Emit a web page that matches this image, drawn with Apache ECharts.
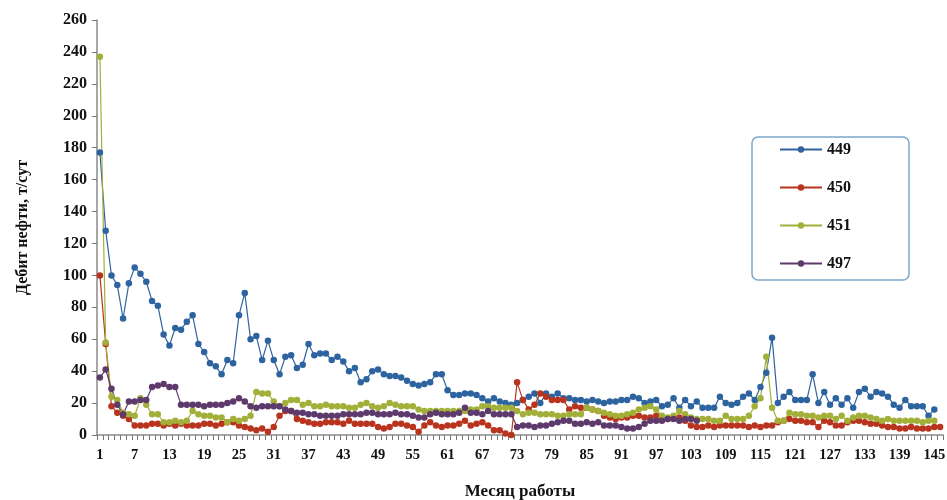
<!DOCTYPE html>
<html>
<head>
<meta charset="utf-8">
<script src="https://cdn.jsdelivr.net/npm/echarts@6/dist/echarts.min.js"></script>
<style>
  html, body { margin: 0; padding: 0; background: #fff; }
  #chart { width: 947px; height: 500px; }
</style>
</head>
<body>
<div id="chart"></div>
<script>
// Месяцы работы скважин
const months = Array.from({ length: 146 }, (_, i) => String(i + 1));

// Дебит нефти по скважинам, т/сут
const well449 = [
  177,128,100,94,73,95,105,101,96,84,
  81,63,56,67,66,71,75,57,52,45,
  43,38,47,45,75,89,60,62,47,59,
  47,38,49,50,42,44,57,50,51,51,
  47,49,46,40,42,33,35,40,41,38,
  37,37,36,34,32,31,32,33,38,38,
  28,25,25,26,26,25,23,21,23,21,
  20,19,20,22,24,26,20,26,24,26,
  23,23,22,22,21,22,21,20,21,21,
  22,22,24,23,20,21,22,18,19,23,
  17,22,18,21,17,17,17,24,20,19,
  20,24,26,22,30,39,61,20,24,27,
  22,22,22,38,20,27,19,23,19,23,
  17,27,29,24,27,26,24,19,17,22,
  18,18,18,12,16,null
];
const well450 = [
  100,57,18,14,12,10,6,6,6,7,
  7,6,7,6,7,6,6,6,7,7,
  6,7,8,8,6,5,4,3,4,2,
  5,12,15,15,10,9,8,7,7,8,
  8,8,7,9,7,7,7,7,5,4,
  5,7,7,6,5,2,6,8,6,5,
  6,6,7,9,6,7,8,6,3,3,
  1,0,33,22,16,19,26,24,22,22,
  22,16,18,17,17,16,15,12,11,10,
  11,11,12,12,11,11,12,11,10,11,
  11,9,6,5,5,6,5,6,6,6,
  6,6,5,6,5,6,6,8,9,10,
  9,9,8,8,5,9,8,6,6,8,
  9,9,8,7,7,6,5,5,4,4,
  5,4,4,4,5,5
];
const well451 = [
  237,58,24,22,14,13,12,23,19,13,
  13,8,8,9,8,9,15,13,12,12,
  11,11,8,10,9,10,12,27,26,26,
  21,18,20,22,22,19,20,18,18,19,
  18,18,18,17,17,19,20,18,17,18,
  20,19,18,18,18,16,15,15,15,15,
  15,15,15,15,16,16,18,18,17,17,
  17,17,15,13,14,14,13,13,13,12,
  12,13,13,13,17,16,15,14,13,12,
  12,13,14,16,17,18,16,12,11,12,
  15,13,11,10,10,10,9,9,12,10,
  10,10,12,18,23,49,17,9,9,14,
  13,13,12,12,11,12,12,10,12,9,
  11,12,12,11,10,9,10,9,9,9,
  9,9,8,9,9,null
];
const well497 = [
  36,41,29,19,13,21,21,22,22,30,
  31,32,30,30,19,19,19,19,18,19,
  19,19,20,21,23,21,18,17,18,18,
  18,18,16,15,14,14,13,13,12,12,
  12,12,13,13,13,13,14,14,13,13,
  13,14,13,13,12,11,11,13,14,13,
  13,13,14,17,14,14,13,15,13,13,
  13,13,5,6,6,5,6,6,7,8,
  9,9,7,7,8,7,8,6,6,6,
  5,4,4,5,7,9,9,9,10,10,
  9,10,10,9
];

const wellNames = ['449', '450', '451', '497'];
const wellData = [well449, well450, well451, well497];
const wellColors = ['#2d64a0', '#b8341f', '#a2b03a', '#5d3a6b'];

const serif = '"Liberation Serif", "DejaVu Serif", serif';

const chart = echarts.init(document.getElementById('chart'), null, { renderer: 'canvas' });

chart.setOption({
  animation: false,
  backgroundColor: '#ffffff',
  grid: { left: 97, right: 4, top: 20, bottom: 65, containLabel: false, outerBoundsMode: 'none' },
  legend: {
    data: wellNames,
    orient: 'vertical',
    left: 752,
    top: 137,
    itemWidth: 42,
    itemHeight: 8,
    itemGap: 21,
    padding: [4, 58, 8, 27],
    borderColor: '#7ea6cc',
    borderWidth: 1.5,
    borderRadius: 6,
    textStyle: { fontFamily: serif, fontWeight: 'bold', fontSize: 16, color: '#111', lineHeight: 17 }
  },
  xAxis: {
    type: 'category',
    data: months,
    boundaryGap: true,
    name: 'Месяц работы',
    nameLocation: 'middle',
    nameGap: 48,
    nameTextStyle: { fontFamily: serif, fontWeight: 'bold', fontSize: 17, color: '#111' },
    axisLine: { lineStyle: { color: '#8a8a8a', width: 1.5 } },
    axisTick: { show: true, interval: 0, length: 5, lineStyle: { color: '#777', width: 1 } },
    axisLabel: { interval: 5, margin: 13, fontFamily: serif, fontWeight: 'bold', fontSize: 14.5, color: '#111' },
    splitLine: { show: false }
  },
  yAxis: {
    type: 'value',
    min: 0,
    max: 260,
    interval: 20,
    name: 'Дебит нефти, т/сут',
    nameLocation: 'middle',
    nameGap: 66,
    nameRotate: 90,
    nameTextStyle: { fontFamily: serif, fontWeight: 'bold', fontSize: 16, color: '#111' },
    axisLine: { show: true, lineStyle: { color: '#8a8a8a', width: 1.5 } },
    axisTick: { show: true, length: 5, lineStyle: { color: '#777' } },
    axisLabel: { margin: 10, fontFamily: serif, fontWeight: 'bold', fontSize: 16, color: '#111' },
    splitLine: { show: false }
  },
  series: wellNames.map((name, i) => ({
    name,
    type: 'line',
    data: wellData[i],
    symbol: 'circle',
    symbolSize: 6.5,
    showSymbol: true,
    showAllSymbol: true,
    connectNulls: false,
    lineStyle: { color: wellColors[i], width: 1.2 },
    itemStyle: { color: wellColors[i] },
    emphasis: { disabled: true }
  }))
});
</script>
</body>
</html>
